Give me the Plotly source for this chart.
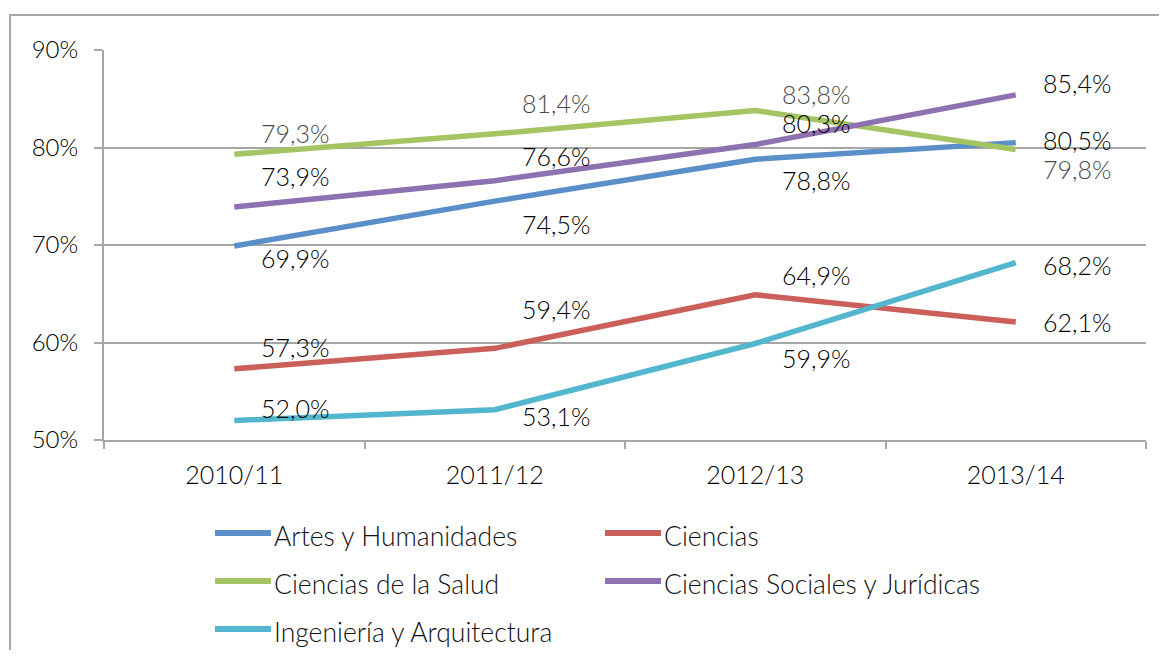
import plotly.graph_objects as go

categories = ["2010/11", "2011/12", "2012/13", "2013/14"]
series_names = [
    "Artes y Humanidades",
    "Ciencias",
    "Ciencias de la Salud",
    "Ciencias Sociales y Jurídicas",
    "Ingeniería y Arquitectura",
]
artes = [69.9, 74.5, 78.8, 80.5]
ciencias = [57.3, 59.4, 64.9, 62.1]
salud = [79.3, 81.4, 83.8, 79.8]
sociales = [73.9, 76.6, 80.3, 85.4]
ingenieria = [52.0, 53.1, 59.9, 68.2]
y_ticks = [50, 60, 70, 80, 90]
y_tick_labels = ["50%", "60%", "70%", "80%", "90%"]

series_values = [artes, ciencias, salud, sociales, ingenieria]

# styling
colors = ["#5A8FCA", "#CB605B", "#A5C463", "#8D71B0", "#52B6CF"]
label_yshift = [
    [-12, -23, -21, 3],
    [22, 39, 20, 0],
    [21, 31, 16, -20],
    [31, 25, 22, 12],
    [13, -6, -15, -2],
]
label_colors = ["#000000", "#000000", "#4a4a4a", "#000000", "#000000"]
label_weights = [300, 300, 300, 300, 300]
FONT = "Lato"
GRAY = "#A6A6A6"
OFF = 8  # page body margin

W, H = 1151, 642
# plot area in page pixels
PL, PR, PT, PB = 104, 1146, 50, 440
L, R, T, B = PL - OFF, PR - OFF, PT - OFF, PB - OFF


def px_x(px):
    return (px - OFF - L) / (R - L)


def px_y(py):
    return (B - (py - OFF)) / (B - T)


fig = go.Figure()
for name, vals, col in zip(series_names, series_values, colors):
    fig.add_trace(go.Scatter(
        x=categories, y=vals, mode="lines", name=name,
        line=dict(color=col, width=5.5), showlegend=False, hoverinfo="skip",
    ))

annotations = []
for vals, shifts, lc, lw in zip(series_values, label_yshift, label_colors, label_weights):
    for cat, v, s in zip(categories, vals, shifts):
        annotations.append(dict(
            x=cat, y=v, xref="x", yref="y",
            text=f"{v:.1f}".replace(".", ",") + "%",
            showarrow=False, xanchor="left", yanchor="middle",
            xshift=25, yshift=s,
            font=dict(family=FONT, size=25, color=lc, weight=lw),
        ))

# manual legend (page pixel positions)
legend_pos = [(215, 533), (605, 533), (215, 581), (605, 581), (215, 629)]
shapes = []
for (lx, ly), name, col in zip(legend_pos, series_names, colors):
    shapes.append(dict(
        type="line", xref="paper", yref="paper",
        x0=px_x(lx), x1=px_x(lx + 56), y0=px_y(ly), y1=px_y(ly),
        line=dict(color=col, width=6),
    ))
    annotations.append(dict(
        x=px_x(lx + 57), y=px_y(ly + 3), xref="paper", yref="paper",
        text=name, showarrow=False, xanchor="left", yanchor="middle",
        font=dict(family=FONT, size=26.5, color="#111111", weight=300),
    ))

# outer frame
shapes.append(dict(
    type="rect", xref="paper", yref="paper",
    x0=px_x(10), x1=px_x(1200), y0=px_y(15), y1=px_y(700),
    line=dict(color=GRAY, width=2), fillcolor="rgba(0,0,0,0)", layer="below",
))

fig.update_layout(
    width=W, height=H,
    margin=dict(l=L, r=W - R, t=T, b=H - B, pad=0),
    paper_bgcolor="white", plot_bgcolor="white",
    font=dict(family=FONT, size=25, color="#000000", weight=300),
    shapes=shapes, annotations=annotations,
    showlegend=False,
    xaxis=dict(
        type="category", range=[-0.5, 3.5], showgrid=False,
        showline=True, linecolor=GRAY, linewidth=2,
        ticks="outside", tickson="boundaries", ticklen=7, tickwidth=2, tickcolor=GRAY,
        ticklabelstandoff=12,
        tickfont=dict(family=FONT, size=25, color="#000000", weight=300),
        zeroline=False, fixedrange=True,
    ),
    yaxis=dict(
        range=[50, 90], tickvals=y_ticks, ticktext=y_tick_labels,
        showgrid=True, gridcolor=GRAY, gridwidth=2,
        showline=True, linecolor=GRAY, linewidth=2,
        ticks="outside", ticklen=8, tickwidth=2, tickcolor=GRAY,
        ticklabelstandoff=11,
        tickfont=dict(family=FONT, size=24, color="#000000", weight=300),
        zeroline=False, fixedrange=True,
    ),
)

fig.write_html("out.html")
